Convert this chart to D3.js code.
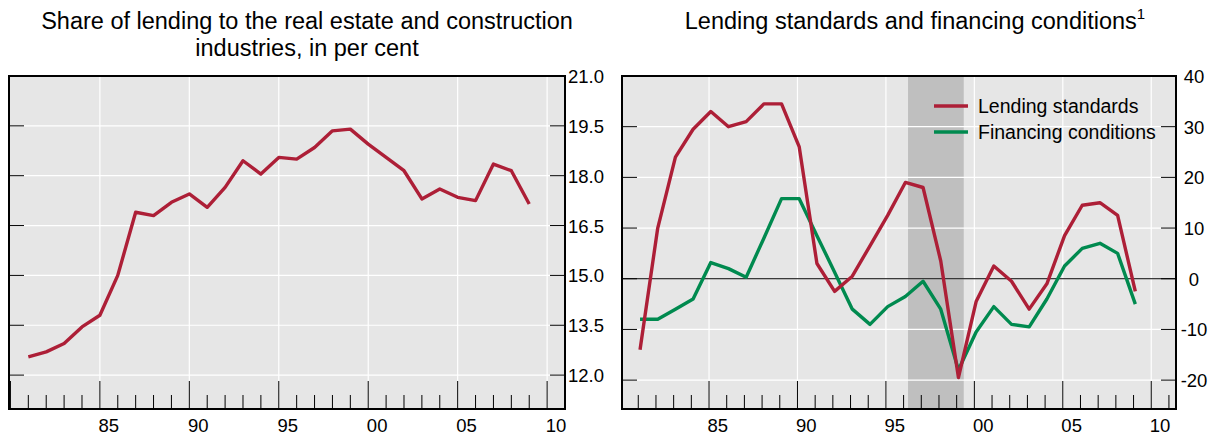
<!DOCTYPE html>
<html><head><meta charset="utf-8">
<script src="https://cdn.jsdelivr.net/npm/d3@7"></script>
<style>body{margin:0;background:#fff;font-family:"Liberation Sans",Arial,sans-serif}</style>
</head><body><svg id="c" width="1229" height="436"></svg>
<script>
const years = d3.range(1981, 2010);
const shareLending = [12.55,12.7,12.95,13.45,13.8,15.0,16.9,16.8,17.2,17.45,17.05,17.65,18.45,18.05,18.55,18.5,18.85,19.35,19.4,18.95,18.55,18.15,17.3,17.6,17.35,17.25,18.35,18.15,17.15];
const lendingStandards = [-14,10,24,29.5,33,30,31,34.5,34.5,26,3,-2.5,0.5,6.5,12.5,19,18,3.5,-19.5,-4.5,2.5,-0.5,-6,-1,8.5,14.5,15,12.5,-2.5];
const financingConditions = [-8,-8,-6,-4,3.2,2,0.3,8,15.8,15.8,8.5,1.3,-6,-9,-5.5,-3.5,-0.5,-6,-18,-10.5,-5.5,-9,-9.5,-4,2.5,6,7,5,-5];
const leftTicks = [12.0,13.5,15.0,16.5,18.0,19.5,21.0];
const rightTicks = [-20,-10,0,10,20,30,40];
const xTickYears = [1985,1990,1995,2000,2005,2010];
const xTickLabels = ["85","90","95","00","05","10"];
const shade = [1996.25, 1999.4];
const RED="#ad1f37", GREEN="#008a4f";
const svg = d3.select("#c");

function panel(o){
  const g = svg.append("g");
  const x = d3.scaleLinear().domain(o.xd).range([o.x0,o.x1]);
  const y = d3.scaleLinear().domain(o.yd).range([o.y1,o.y0]);
  g.append("rect").attr("x",o.x0).attr("y",o.y0).attr("width",o.x1-o.x0).attr("height",o.y1-o.y0).attr("fill","#e6e6e6");
  if(o.shade) g.append("rect").attr("x",x(o.shade[0])).attr("y",o.y0).attr("width",x(o.shade[1])-x(o.shade[0])).attr("height",o.y1-o.y0).attr("fill","#bfbfbf");
  xTickYears.forEach(v=>g.append("line").attr("x1",x(v)).attr("x2",x(v)).attr("y1",o.y0).attr("y2",o.y1).attr("stroke","#fff").attr("stroke-width",1.2));
  o.ticks.forEach(v=>g.append("line").attr("x1",o.x0).attr("x2",o.x1).attr("y1",y(v)).attr("y2",y(v)).attr("stroke","#fff").attr("stroke-width",1.2));
  o.ticks.forEach(v=>{
    g.append("line").attr("x1",o.x0).attr("x2",o.x0+15).attr("y1",y(v)).attr("y2",y(v)).attr("stroke","#000");
    g.append("line").attr("x1",o.x1-15).attr("x2",o.x1).attr("y1",y(v)).attr("y2",y(v)).attr("stroke","#000");
    g.append("text").attr("x",o.x1+(o.labelDx||22)).attr("y",y(v)+7).attr("text-anchor","middle").attr("font-size",18.5).text(o.fmt(v));
  });
  d3.range(Math.ceil(o.xd[0]),Math.floor(o.xd[1])+1).forEach(v=>{
    const major = v%5===0;
    g.append("line").attr("x1",x(v)).attr("x2",x(v)).attr("y1",o.y1).attr("y2",o.y1-(major?28:14)).attr("stroke","#000").attr("stroke-width",1);
  });
  xTickYears.forEach((v,i)=>g.append("text").attr("x",x(v+0.5)).attr("y",o.y1+23).attr("text-anchor","middle").attr("font-size",18.5).text(xTickLabels[i]));
  if(o.zero) g.append("line").attr("x1",o.x0).attr("x2",o.x1).attr("y1",y(0)).attr("y2",y(0)).attr("stroke","#000").attr("stroke-width",1);
  o.series.forEach(s=>{
    g.append("path").datum(s.v).attr("fill","none").attr("stroke",s.c).attr("stroke-width",3.4).attr("stroke-linejoin","round")
     .attr("d",d3.line().x((d,i)=>x(years[i]+o.off)).y(d=>y(d)));
  });
  g.append("rect").attr("x",o.x0).attr("y",o.y0).attr("width",o.x1-o.x0).attr("height",o.y1-o.y0).attr("fill","none").attr("stroke","#000").attr("stroke-width",2);
  return {x,y,g};
}

panel({x0:9,x1:565,y0:76,y1:409,xd:[1979.92,2011.0],yd:[10.98,21.0],ticks:leftTicks,fmt:d3.format(".1f"),
  series:[{v:shareLending,c:RED}],off:0,labelDx:21});
panel({x0:622,x1:1176,y0:76,y1:409,xd:[1980.08,2011.4],yd:[-25.7,40],ticks:rightTicks,fmt:d=>d,
  series:[{v:financingConditions,c:GREEN},{v:lendingStandards,c:RED}],off:0.1,zero:true,shade:shade,labelDx:18});

svg.append("text").attr("x",307).attr("y",29).attr("text-anchor","middle").attr("font-size",23.5).text("Share of lending to the real estate and construction");
svg.append("text").attr("x",307).attr("y",56).attr("text-anchor","middle").attr("font-size",23.5).text("industries, in per cent");
const t = svg.append("text").attr("x",915).attr("y",29).attr("text-anchor","middle").attr("font-size",23.5);
t.append("tspan").text("Lending standards and financing conditions");
t.append("tspan").attr("dy",-10).attr("font-size",15).text("1");

const leg=[["Lending standards",RED],["Financing conditions",GREEN]];
leg.forEach((l,i)=>{
  const yy=106+i*26;
  svg.append("line").attr("x1",934).attr("x2",968).attr("y1",yy).attr("y2",yy).attr("stroke",l[1]).attr("stroke-width",3.4);
  svg.append("text").attr("x",978).attr("y",yy+7).attr("font-size",19.5).text(l[0]);
});
</script></body></html>
